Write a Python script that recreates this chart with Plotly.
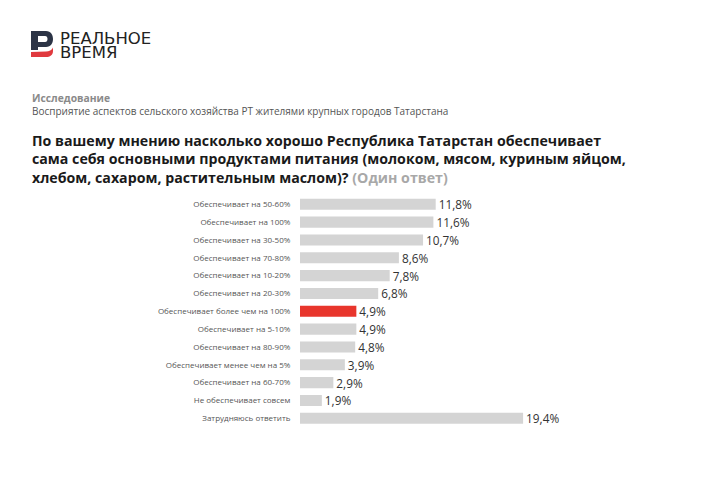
import plotly.graph_objects as go

# The page body adds an 8px margin, so the figure is drawn 8px in from the
# top-left corner; reference pixel positions are converted with OFF below.
OFF = 8
W, H = 720 - OFF, 480 - OFF

categories = [
    "Обеспечивает на 50-60%",
    "Обеспечивает на 100%",
    "Обеспечивает на 30-50%",
    "Обеспечивает на 70-80%",
    "Обеспечивает на 10-20%",
    "Обеспечивает на 20-30%",
    "Обеспечивает более чем на 100%",
    "Обеспечивает на 5-10%",
    "Обеспечивает на 80-90%",
    "Обеспечивает менее чем на 5%",
    "Обеспечивает на 60-70%",
    "Не обеспечивает совсем",
    "Затрудняюсь ответить",
]
values = [11.8, 11.6, 10.7, 8.6, 7.8, 6.8, 4.9, 4.9, 4.8, 3.9, 2.9, 1.9, 19.4]
highlight = "Обеспечивает более чем на 100%"

GRAY = "#d4d4d4"
RED = "#e8352c"
colors = [RED if c == highlight else GRAY for c in categories]
labels = [f"{v:.1f}".replace(".", ",") + "%" for v in values]


def px(x):
    return (x - OFF) / W


def py(y):
    return 1 - (y - OFF) / H


fig = go.Figure(
    go.Bar(
        x=values,
        y=categories,
        orientation="h",
        marker=dict(color=colors, line=dict(width=0)),
        text=labels,
        textposition="outside",
        constraintext="none",
        cliponaxis=False,
        textfont=dict(family="Open Sans", size=11.8, color="#333333"),
        hoverinfo="skip",
    )
)

x_left, x_right = 300, 700
scale = 11.5  # px per percent
fig.update_layout(
    width=W,
    height=H,
    margin=dict(l=0, r=0, t=0, b=0),
    paper_bgcolor="white",
    plot_bgcolor="white",
    showlegend=False,
    bargap=0.38,
    xaxis=dict(
        domain=[px(x_left), px(x_right)],
        range=[0, (x_right - x_left) / scale],
        visible=False,
        fixedrange=True,
    ),
    yaxis=dict(
        domain=[py(427.2), py(195.4)],
        autorange="reversed",
        showgrid=False,
        zeroline=False,
        showline=False,
        ticks="outside",
        ticklen=7,
        tickcolor="rgba(0,0,0,0)",
        tickfont=dict(family="Open Sans", size=8, color="#555555"),
        automargin=False,
    ),
)


def P(x, y):
    return f"{px(x):.5f},{py(y):.5f}"


# Logo: dark "Р" with red lower sweep
dark_path = (
    f"M{P(31,31)} L{P(46,31)} C{P(51,31)} {P(53,35)} {P(53,39)} "
    f"C{P(53,43)} {P(51,47)} {P(46,47)} L{P(38,47)} L{P(38,50)} L{P(31,50)} Z"
)
hole_path = (
    f"M{P(38,36)} L{P(45,36)} C{P(47,36)} {P(47.5,37.5)} {P(47.5,39)} "
    f"C{P(47.5,40.5)} {P(47,42)} {P(45,42)} L{P(38,42)} Z"
)
red_path = (
    f"M{P(31,52)} L{P(46,51.5)} C{P(49,51.5)} {P(52,50)} {P(53,47.5)} "
    f"L{P(53,51)} C{P(53,55)} {P(50,57)} {P(46,57)} L{P(31,57)} Z"
)
shapes = [
    dict(type="path", xref="paper", yref="paper", path=dark_path,
         fillcolor="#2c3446", line=dict(width=0)),
    dict(type="path", xref="paper", yref="paper", path=hole_path,
         fillcolor="white", line=dict(width=0)),
    dict(type="path", xref="paper", yref="paper", path=red_path,
         fillcolor="#e0393e", line=dict(width=0)),
]
fig.update_layout(shapes=shapes)

TITLE = dict(family="Open Sans", size=14.2, color="#1a1a1a")
title_text = (
    "<b>По вашему мнению насколько хорошо Республика Татарстан обеспечивает</b><br>"
    "<b>сама себя основными продуктами питания (молоком, мясом, куриным яйцом,</b><br>"
    "<b>хлебом, сахаром, растительным маслом)?</b> "
    "<b><span style='color:#a8a8a8'>(Один ответ)</span></b>"
)
annotations = [
    dict(text="РЕАЛЬНОЕ", x=px(58), y=py(38), font=dict(family="DejaVu Sans", size=16.5, color="#222222")),
    dict(text="ВРЕМЯ", x=px(58), y=py(52.5), font=dict(family="DejaVu Sans", size=16.5, color="#222222")),
    dict(text="<b>Исследование</b>", x=px(30), y=py(98), font=dict(family="Open Sans", size=10.3, color="#8a8a8a")),
    dict(text="Восприятие аспектов сельского хозяйства РТ жителями крупных городов Татарстана",
         x=px(30), y=py(110.5), font=dict(family="Open Sans", size=10, color="#555555")),
    dict(text=title_text, x=px(30), y=py(158.5), align="left", font=TITLE),
]
for a in annotations:
    a.update(xref="paper", yref="paper", xanchor="left", yanchor="middle", showarrow=False)
fig.update_layout(annotations=annotations)

fig.write_html("out.html")
